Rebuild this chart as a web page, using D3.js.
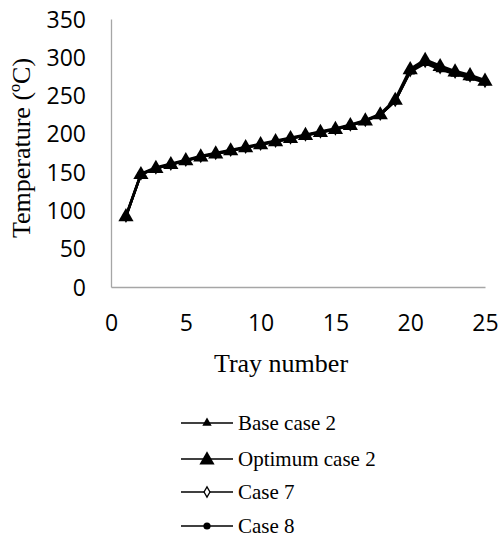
<!DOCTYPE html>
<html>
<head>
<meta charset="utf-8">
<script src="https://cdn.jsdelivr.net/npm/d3@7"></script>
<style>
  body { margin: 0; background: #fff; }
  svg { display: block; }
</style>
</head>
<body>
<svg id="chart" width="499" height="540"></svg>
<script>
// Temperature profile along the column trays for four operating cases
const trays = d3.range(1, 26);
const baseCase2    = [92,147,155,160,165,170,174,178,182,186,190,194,198,202,206,211,217,225,243,281,292,284,278,273,267];
const optimumCase2 = [93,148,156,161,166,171,175,179,183,187,191,195,199,203,207,212,218,226,245,285,297,289,282,277,270];
const case7        = [92,147,155,160,165,170,174,178,182,186,190,194,198,202,206,211,217,225,243,282,294,286,280,275,268];
const case8        = [92,147,155,160,165,170,174,178,182,186,190,194,198,202,206,211,217,225,243,283,295,287,280,275,269];
const xTicks = [0, 5, 10, 15, 20, 25];
const yTicks = [0, 50, 100, 150, 200, 250, 300, 350];

const series = [
  { name: "Case 8", values: case8, marker: "circle" },
  { name: "Case 7", values: case7, marker: "diamond" },
  { name: "Base case 2", values: baseCase2, marker: "smallTri" },
  { name: "Optimum case 2", values: optimumCase2, marker: "bigTri" }
];
const legendOrder = ["Base case 2", "Optimum case 2", "Case 7", "Case 8"];

const svg = d3.select("#chart");
const plotLeft = 111, plotRight = 485, plotTop = 19, plotBottom = 287;
const serif = "'Liberation Serif', 'Times New Roman', serif";

const x = d3.scaleLinear().domain([0, 25]).range([plotLeft, plotRight]);
const y = d3.scaleLinear().domain([0, 350]).range([plotBottom, plotTop]);

// axes (plain lines, no tick marks)
const xAxis = svg.append("g").attr("transform", `translate(0,${plotBottom})`)
  .call(d3.axisBottom(x).tickValues(xTicks).tickSize(0));
const yAxis = svg.append("g").attr("transform", `translate(${plotLeft},0)`)
  .call(d3.axisLeft(y).tickValues(yTicks).tickSize(0).tickPadding(25));
[xAxis, yAxis].forEach(a => {
  a.select(".domain").attr("stroke", "#a6a6a6").attr("stroke-width", 1.3);
  a.selectAll("text").attr("font-family", "'Open Sans', sans-serif")
    .attr("font-size", 23).attr("fill", "#000");
});
yAxis.selectAll("text").attr("dy", "0.35em");
xAxis.selectAll("text").attr("dy", 0).attr("y", 44);

// axis titles
svg.append("text")
  .attr("x", 281).attr("y", 372)
  .attr("text-anchor", "middle")
  .attr("font-family", serif)
  .attr("font-size", 26).text("Tray number");
svg.append("text")
  .attr("transform", "translate(30,148) rotate(-90)")
  .attr("text-anchor", "middle")
  .attr("font-family", serif)
  .attr("font-size", 26).text("Temperature (ºC)");

const line = d3.line().x((d, i) => x(trays[i])).y(d => y(d));

function drawMarker(g, kind, cx, cy) {
  if (kind === "bigTri") {
    g.append("path").attr("d", d3.symbol(d3.symbolTriangle, 100)())
      .attr("transform", `translate(${cx},${cy + 1})`).attr("fill", "#000");
  } else if (kind === "smallTri") {
    g.append("path").attr("d", d3.symbol(d3.symbolTriangle, 38)())
      .attr("transform", `translate(${cx},${cy})`).attr("fill", "#000");
  } else if (kind === "diamond") {
    g.append("path").attr("d", d3.symbol(d3.symbolDiamond, 30)())
      .attr("transform", `translate(${cx},${cy})`)
      .attr("fill", "#fff").attr("stroke", "#000").attr("stroke-width", 1.3);
  } else {
    g.append("circle").attr("cx", cx).attr("cy", cy).attr("r", 3.6).attr("fill", "#000");
  }
}

series.forEach(s => {
  const g = svg.append("g");
  g.append("path").datum(s.values).attr("d", line)
    .attr("fill", "none").attr("stroke", "#000").attr("stroke-width", 2.5);
  s.values.forEach((v, i) => drawMarker(g, s.marker, x(trays[i]), y(v)));
});

// legend
const legendY = [423, 459, 492, 526];
legendOrder.forEach((name, i) => {
  const s = series.find(d => d.name === name);
  const g = svg.append("g");
  const ly = legendY[i];
  g.append("line").attr("x1", 181).attr("x2", 233).attr("y1", ly).attr("y2", ly)
    .attr("stroke", "#000").attr("stroke-width", 1.5);
  drawMarker(g, s.marker, 207, ly);
  g.append("text").attr("x", 238).attr("y", ly).attr("dy", "0.33em")
    .attr("font-family", serif)
    .attr("font-size", 21).text(name);
});
</script>
</body>
</html>
